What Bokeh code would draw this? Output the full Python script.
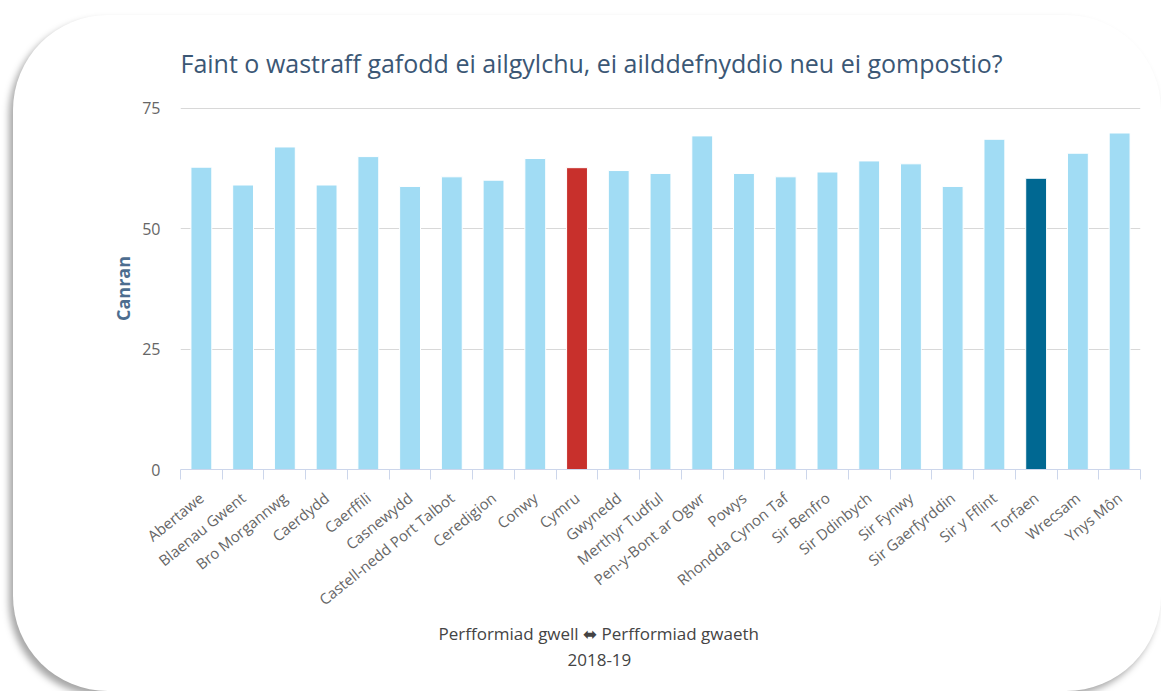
from bokeh.plotting import figure
from bokeh.models import (Range1d, LinearAxis, FixedTicker, Title, ColumnDataSource)
from bokeh.embed import file_html
from bokeh.resources import INLINE

categories = ["Abertawe", "Blaenau Gwent", "Bro Morgannwg", "Caerdydd", "Caerffili",
              "Casnewydd", "Castell-nedd Port Talbot", "Ceredigion", "Conwy", "Cymru",
              "Gwynedd", "Merthyr Tudful", "Pen-y-Bont ar Ogwr", "Powys", "Rhondda Cynon Taf",
              "Sir Benfro", "Sir Ddinbych", "Sir Fynwy", "Sir Gaerfyrddin", "Sir y Fflint",
              "Torfaen", "Wrecsam", "Ynys Môn"]
values = [62.8, 59.1, 67.0, 59.1, 65.0, 58.8, 60.8, 60.1, 64.6, 62.7,
          62.1, 61.5, 69.3, 61.5, 60.8, 61.8, 64.1, 63.5, 58.8, 68.6,
          60.5, 65.7, 69.9]
highlight = {"Cymru": "#c8302c", "Torfaen": "#006892"}
base_color = "#a1dcf4"
y_ticks = [0, 25, 50, 75]

title_text = "Faint o wastraff gafodd ei ailgylchu, ei ailddefnyddio neu ei gompostio?"
y_label = "Canran"
footer_text = "Perfformiad gwell \u2b0c Perfformiad gwaeth"
year_text = "2018-19"

FONT = "Open Sans"
n = len(categories)
centers = [i + 0.5 for i in range(n)]
colors = [highlight.get(c, base_color) for c in categories]
src = ColumnDataSource(dict(x=centers, val=values, color=colors, cat=categories))

p = figure(width=1148, height=676, x_range=Range1d(0, n),
           y_range=Range1d(0, 75.2), output_backend="svg", toolbar_location=None,
           x_axis_location=None, min_border_left=167, min_border_right=21,
           min_border_top=92, min_border_bottom=222)
p.styles = {"border-radius": "95px", "box-shadow": "-4px 5px 7px rgba(0,0,0,0.35)",
            "background-color": "white", "margin-left": "13px", "margin-top": "15px"}
p.border_fill_color = None
p.background_fill_color = None
p.outline_line_color = None

p.title.text = title_text
p.title.align = "left"
p.title.text_font = FONT
p.title.text_font_size = "25px"
p.title.text_font_style = "normal"
p.title.text_color = "#3b5775"
p.title.standoff = 56

p.vbar(x="x", top="val", width=0.5, fill_color="color", line_color="white",
       line_width=1, source=src)

# boundary ticks axis
bax = LinearAxis(ticker=FixedTicker(ticks=list(range(n + 1))))
bax.axis_line_color = "#ccd6eb"
bax.major_tick_line_color = "#ccd6eb"
bax.major_tick_out = 10
bax.major_tick_in = 0
bax.minor_tick_line_color = None
bax.major_label_text_font_size = "1px"
bax.major_label_text_color = None
bax.major_label_standoff = 0
p.add_layout(bax, "below")

# category label axis
cax = LinearAxis(ticker=FixedTicker(ticks=centers))
cax.major_label_overrides = {c: name for c, name in zip(centers, categories)}
cax.axis_line_color = None
cax.major_tick_line_color = None
cax.minor_tick_line_color = None
cax.major_tick_out = 0
cax.major_tick_in = 0
cax.major_label_orientation = 0.68
cax.major_label_standoff = 16
cax.major_label_text_font = FONT
cax.major_label_text_font_size = "15px"
cax.major_label_text_color = "#666666"
p.add_layout(cax, "below")

p.yaxis.ticker = FixedTicker(ticks=y_ticks)
p.yaxis.axis_line_color = None
p.yaxis.major_tick_line_color = None
p.yaxis.minor_tick_line_color = None
p.yaxis.major_label_text_font = FONT
p.yaxis.major_label_text_font_size = "16px"
p.yaxis.major_label_text_color = "#666666"
p.yaxis.major_label_standoff = 14
p.yaxis.axis_label = y_label
p.yaxis.axis_label_text_font = FONT
p.yaxis.axis_label_text_font_size = "18px"
p.yaxis.axis_label_text_font_style = "bold"
p.yaxis.axis_label_text_color = "#4d6d8f"
p.yaxis.axis_label_standoff = 4

p.xgrid.grid_line_color = None
p.ygrid.ticker = FixedTicker(ticks=y_ticks)
p.ygrid.grid_line_color = "#d8d8d8"

t1 = Title(text=footer_text, align="left", offset=258, text_font=FONT, text_font_size="17px",
           text_font_style="normal", text_color="#444444", standoff=0)
t2 = Title(text=year_text, align="left", offset=387, text_font=FONT, text_font_size="17px",
           text_font_style="normal", text_color="#444444", standoff=14)
p.add_layout(t1, "below")
p.add_layout(t2, "below")

open("out.html", "w").write(file_html(p, INLINE))
